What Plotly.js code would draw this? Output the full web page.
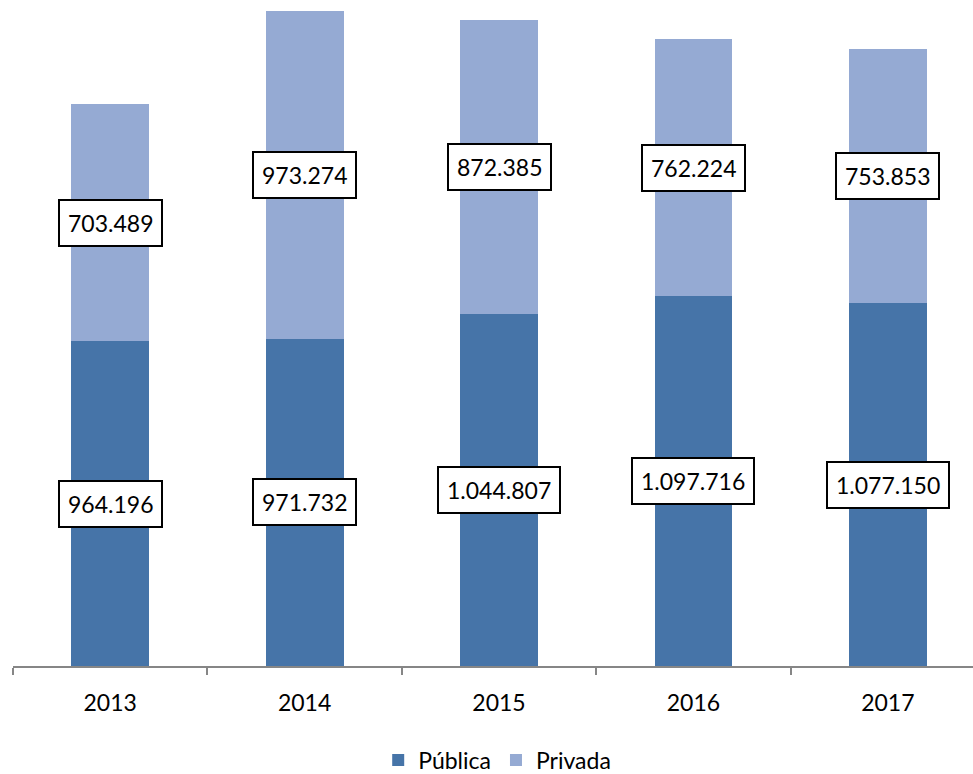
<!DOCTYPE html>
<html>
<head>
<meta charset="utf-8">
<script src="https://cdn.plot.ly/plotly-3.0.1.min.js"></script>
<style>html,body{margin:0;padding:0;background:#fff;}#chart{width:973px;height:774px;}</style>
</head>
<body>
<div id="chart"></div>
<script>
var years = ["2013", "2014", "2015", "2016", "2017"];
var publica = [964196, 971732, 1044807, 1097716, 1077150];
var privada = [703489, 973274, 872385, 762224, 753853];
var publicaLabels = ["964.196", "971.732", "1.044.807", "1.097.716", "1.077.150"];
var privadaLabels = ["703.489", "973.274", "872.385", "762.224", "753.853"];

var FONT = "Lato, 'Open Sans', sans-serif";
var dark = "#4674A8";
var light = "#95AAD3";

var traces = [
  {type: "bar", name: "Pública", x: years, y: publica, marker: {color: dark}, width: 0.4, hoverinfo: "skip"},
  {type: "bar", name: "Privada", x: years, y: privada, marker: {color: light}, width: 0.4, hoverinfo: "skip"}
];

var annotations = [];
for (var i = 0; i < years.length; i++) {
  annotations.push({
    x: i, y: publica[i] / 2, xref: "x", yref: "y", text: publicaLabels[i], showarrow: false,
    bgcolor: "#ffffff", bordercolor: "#000000", borderwidth: 2, borderpad: 8,
    font: {family: FONT, size: 23, color: "#000"}
  });
  annotations.push({
    x: i, y: publica[i] + privada[i] / 2, xref: "x", yref: "y", text: privadaLabels[i], showarrow: false,
    bgcolor: "#ffffff", bordercolor: "#000000", borderwidth: 2, borderpad: 8,
    font: {family: FONT, size: 23, color: "#000"}
  });
}

var layout = {
  width: 973, height: 774,
  margin: {l: 13, r: 0, t: 0, b: 108},
  barmode: "stack",
  paper_bgcolor: "#ffffff", plot_bgcolor: "#ffffff",
  font: {family: FONT, size: 23, color: "#000"},
  xaxis: {
    type: "category", range: [-0.5, 4.438], fixedrange: true,
    showline: true, linecolor: "#868686", linewidth: 2,
    ticks: "outside", tickson: "boundaries", ticklen: 7, tickcolor: "#868686", tickwidth: 2,
    showgrid: false, zeroline: false,
    tickfont: {family: FONT, size: 23, color: "#000"},
    ticklabelstandoff: 15
  },
  yaxis: {
    range: [0, 1977000], showticklabels: false, ticks: "", showline: false,
    showgrid: false, zeroline: false, fixedrange: true
  },
  showlegend: true,
  legend: {
    orientation: "h", xref: "container", yref: "container",
    x: 0.511, xanchor: "center", y: 0.018, yanchor: "middle",
    font: {family: FONT, size: 23, color: "#000"},
    traceorder: "normal", itemwidth: 30
  },
  annotations: annotations
};

Plotly.newPlot("chart", traces, layout, {displayModeBar: false, staticPlot: true});
</script>
</body>
</html>
